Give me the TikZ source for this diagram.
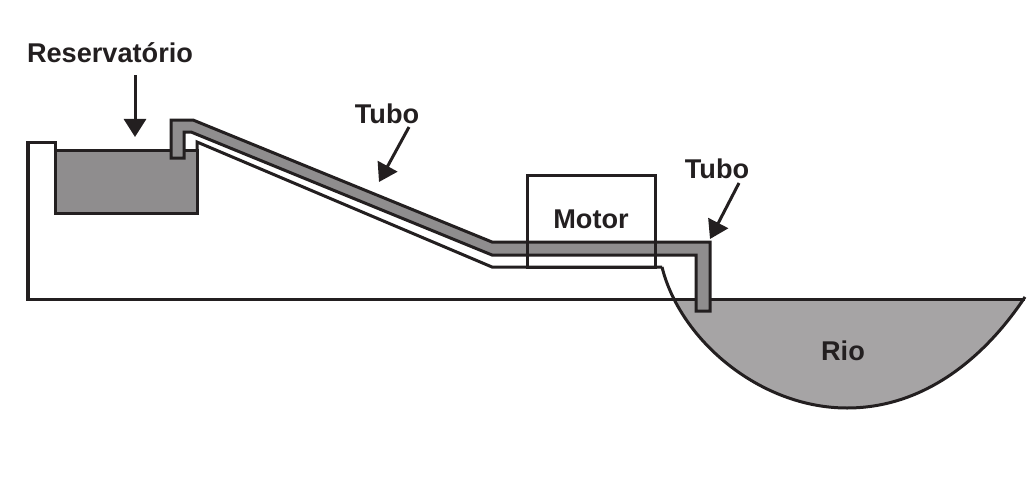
\documentclass[tikz,border=0pt]{standalone}
\usepackage{fontspec}
\setmainfont{Liberation Sans}
\usetikzlibrary{arrows.meta}

\definecolor{traco}{RGB}{35,31,32}
\definecolor{tanque}{RGB}{143,141,142}
\definecolor{agua}{RGB}{166,164,165}

\tikzstyle{txt} = [text=traco, font=\fontsize{19.3}{22}\selectfont\bfseries, inner sep=0pt, anchor=base]
\tikzstyle{linha} = [draw=traco, line width=0.075cm, line join=miter]
\tikzstyle{seta} = [draw=traco, fill=traco, line width=0.075cm, -{Triangle[width=0.55cm,length=0.45cm]}]

\begin{document}
\begin{tikzpicture}[x=0.025cm, y=-0.025cm]
\useasboundingbox (0,0) rectangle (1034,487);

%RIO
\begin{scope}
\clip (0,299) rectangle (1034,487);
\fill[agua] (662,267) .. controls (680,340) and (760,408) .. (847,408)
            .. controls (930,408) and (990,350) .. (1025,297) -- cycle;
\end{scope}

%TERRENO
\draw[linha] (55,150) -- (55,142) -- (28,142) -- (28,299) -- (1025,299);
\draw[linha] (662,267) .. controls (680,340) and (760,408) .. (847,408)
             .. controls (930,408) and (990,350) .. (1025,297);

%RESERVATORIO
\draw[linha, fill=tanque] (55,150) rectangle (197,213);
\draw[linha] (197,150) -- (197,142) -- (492,267) -- (662,267);

%TUBO
\draw[linha, fill=tanque] (171,158) -- (171,120) -- (193,120) -- (492,242) -- (710,242)
      -- (710,311) -- (696,311) -- (696,255) -- (492,255) -- (191,132) -- (184,132)
      -- (184,158) -- cycle;

%MOTOR
\draw[linha] (527,175) rectangle (655,267);
\node[txt] (motor) at (591,228) {Motor};

%ROTULOS
\node[txt] (reservatorio) at (110,62) {Reservatório};
\node[txt] (tubo1) at (387,123) {Tubo};
\node[txt] (tubo2) at (717,178) {Tubo};
\node[txt] (rio) at (843,360) {Rio};

\coordinate (resA) at (135,75);
\coordinate (resB) at (135,137);
\coordinate (tubo1A) at (409,127);
\coordinate (tubo1B) at (379,182);
\coordinate (tubo2A) at (739,183);
\coordinate (tubo2B) at (710,239);
\draw[seta] (resA) -- (resB);
\draw[seta] (tubo1A) -- (tubo1B);
\draw[seta] (tubo2A) -- (tubo2B);
\end{tikzpicture}
\end{document}
